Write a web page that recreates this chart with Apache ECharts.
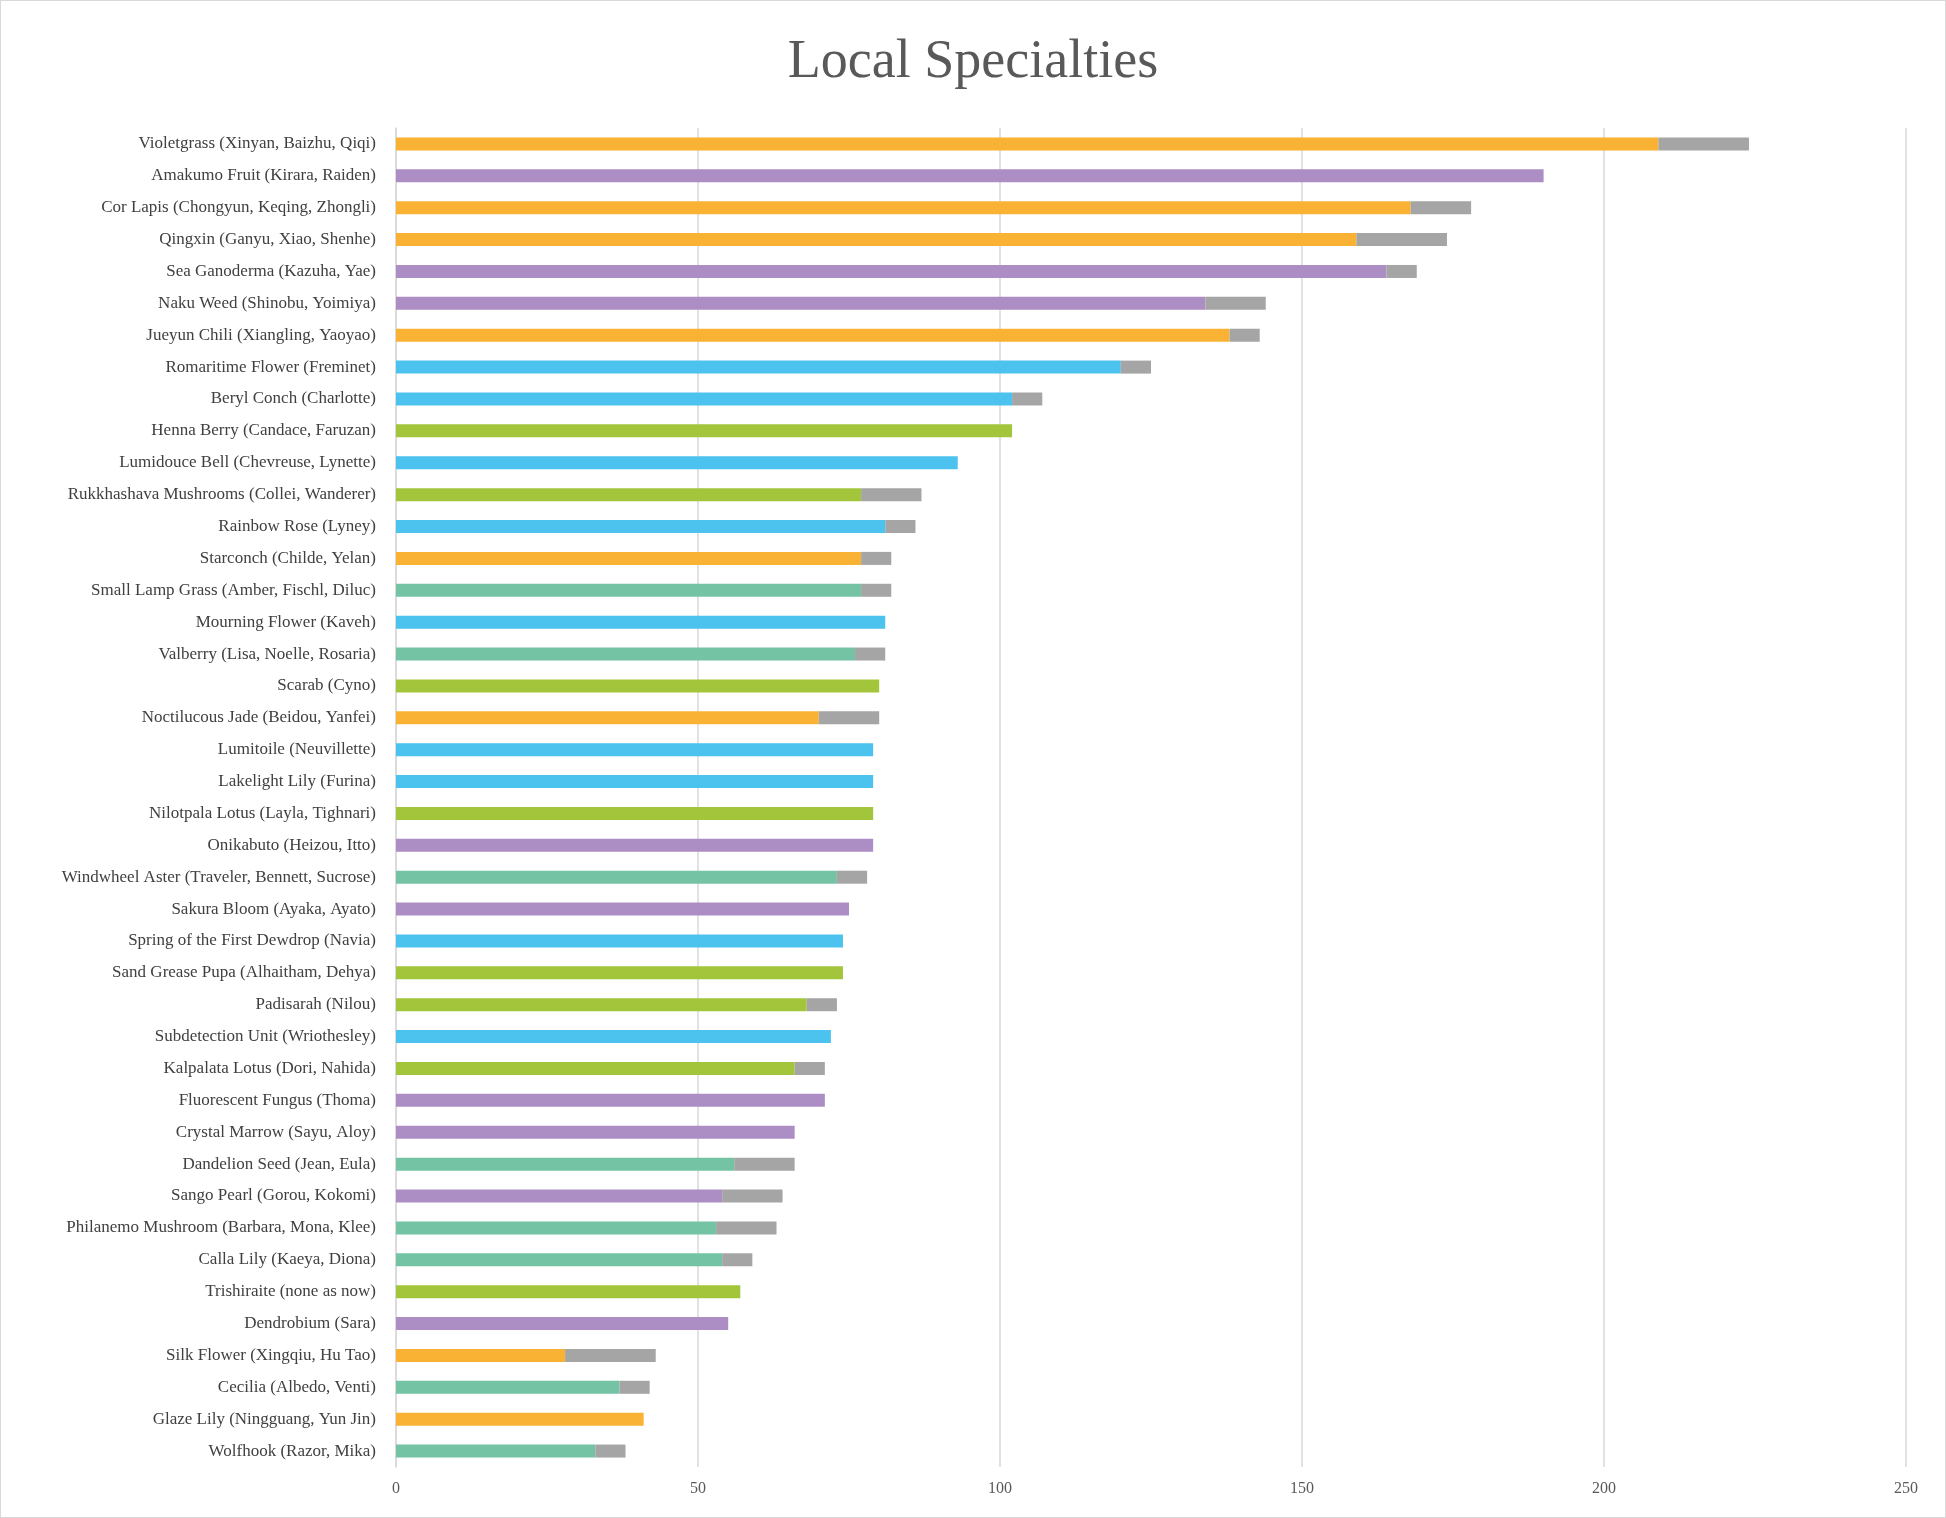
<!DOCTYPE html>
<html><head><meta charset="utf-8">
<script src="https://cdn.jsdelivr.net/npm/echarts@6/dist/echarts.min.js"></script>
<style>html,body{margin:0;padding:0;background:#fff}#c{width:1944px;height:1516px;border:1px solid #d9d9d9}</style>
</head><body><div id="c"></div>
<script>
const categories = ["Violetgrass (Xinyan, Baizhu, Qiqi)","Amakumo Fruit (Kirara, Raiden)","Cor Lapis (Chongyun, Keqing, Zhongli)","Qingxin (Ganyu, Xiao, Shenhe)","Sea Ganoderma (Kazuha, Yae)","Naku Weed (Shinobu, Yoimiya)","Jueyun Chili (Xiangling, Yaoyao)","Romaritime Flower (Freminet)","Beryl Conch (Charlotte)","Henna Berry (Candace, Faruzan)","Lumidouce Bell (Chevreuse, Lynette)","Rukkhashava Mushrooms (Collei, Wanderer)","Rainbow Rose (Lyney)","Starconch (Childe, Yelan)","Small Lamp Grass (Amber, Fischl, Diluc)","Mourning Flower (Kaveh)","Valberry (Lisa, Noelle, Rosaria)","Scarab (Cyno)","Noctilucous Jade (Beidou, Yanfei)","Lumitoile (Neuvillette)","Lakelight Lily (Furina)","Nilotpala Lotus (Layla, Tighnari)","Onikabuto (Heizou, Itto)","Windwheel Aster (Traveler, Bennett, Sucrose)","Sakura Bloom (Ayaka, Ayato)","Spring of the First Dewdrop (Navia)","Sand Grease Pupa (Alhaitham, Dehya)","Padisarah (Nilou)","Subdetection Unit (Wriothesley)","Kalpalata Lotus (Dori, Nahida)","Fluorescent Fungus (Thoma)","Crystal Marrow (Sayu, Aloy)","Dandelion Seed (Jean, Eula)","Sango Pearl (Gorou, Kokomi)","Philanemo Mushroom (Barbara, Mona, Klee)","Calla Lily (Kaeya, Diona)","Trishiraite (none as now)","Dendrobium (Sara)","Silk Flower (Xingqiu, Hu Tao)","Cecilia (Albedo, Venti)","Glaze Lily (Ningguang, Yun Jin)","Wolfhook (Razor, Mika)"];
const regions = ["L","I","L","L","I","I","L","F","F","S","F","S","F","L","M","F","M","S","L","F","F","S","I","M","I","F","S","S","F","S","I","I","M","I","M","M","S","I","L","M","L","M"];
const baseValues = [209,190,168,159,164,134,138,120,102,102,93,77,81,77,77,81,76,80,70,79,79,79,79,73,75,74,74,68,72,66,71,66,56,54,53,54,57,55,28,37,41,33];
const totalValues = [224,190,178,174,169,144,143,125,107,102,93,87,86,82,82,81,81,80,80,79,79,79,79,78,75,74,74,73,72,71,71,66,66,64,63,59,57,55,43,42,41,38];
const regionColors = {L:"#F9B233",I:"#AC8DC4",F:"#4CC2EE",S:"#A3C53B",M:"#74C3A5"};
const font = "Liberation Serif";
const chart = echarts.init(document.getElementById('c'));
chart.setOption({
  animation:false,
  title:{text:"Local Specialties",left:"center",top:30,textStyle:{fontFamily:font,fontSize:54,fontWeight:"normal",color:"#595959"}},
  grid:{left:395,right:39,top:127,bottom:50},
  xAxis:{type:"value",min:0,max:250,interval:50,axisLine:{show:false},axisTick:{show:false},
    splitLine:{lineStyle:{color:"#d9d9d9",width:1.5}},axisLabel:{fontFamily:font,fontSize:16,color:"#595959",margin:14}},
  yAxis:{type:"category",data:categories,inverse:true,axisTick:{show:false},
    axisLine:{lineStyle:{color:"#d9d9d9",width:1.5}},axisLabel:{fontFamily:font,fontSize:17,color:"#404040",margin:20}},
  series:[
    {type:"bar",stack:"a",barWidth:13,data:baseValues.map((v,i)=>({value:v,itemStyle:{color:regionColors[regions[i]]}}))},
    {type:"bar",stack:"a",barWidth:13,itemStyle:{color:"#A5A5A5"},data:totalValues.map((t,i)=>t-baseValues[i])}
  ]
});
</script></body></html>
